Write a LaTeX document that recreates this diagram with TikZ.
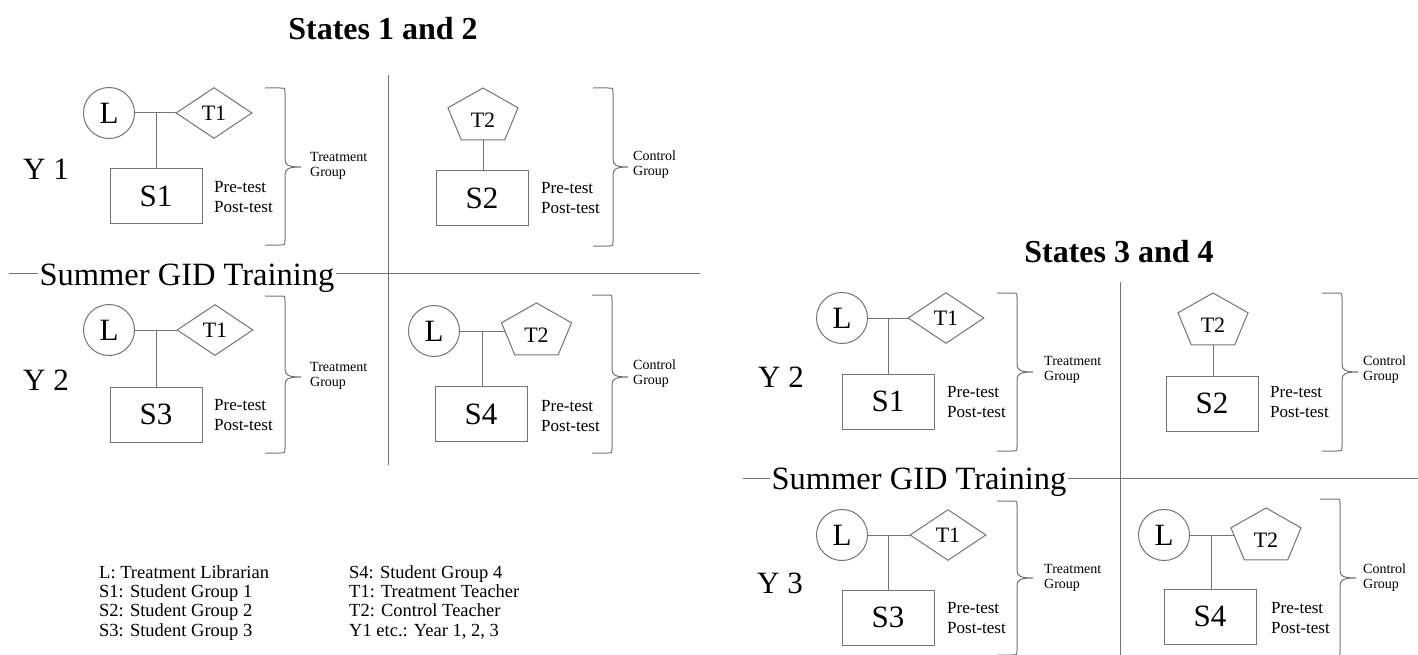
\documentclass[tikz,border=0pt]{standalone}
\usepackage{fontspec}
\setmainfont{Liberation Serif}
\usetikzlibrary{shapes.geometric}
% right brace: #1 arm end x, #2 shaft x, #3 tip x, #4 top y, #5 tip y, #6 bottom y
\newcommand\grpbrace[6]{%
  \draw[ln] (#1,#4) -- ({#2-5},#4) .. controls (#2,#4) .. (#2,{#4+5})
    -- (#2,{#5-8}) .. controls (#2,{#5-2}) and ({#2+3},#5) .. (#3,#5)
    .. controls ({#2+3},#5) and (#2,{#5+2}) .. (#2,{#5+8})
    -- (#2,{#6-5}) .. controls (#2,#6) .. ({#2-5},#6) -- (#1,#6);}
\begin{document}
\begin{tikzpicture}[x=1pt,y=-1pt,
  ln/.style={draw=black!55, line width=1pt},
  circ/.style={circle, ln, minimum size=51pt, inner sep=0pt, font=\fontsize{31}{31}\selectfont},
  dia/.style={diamond, ln, minimum width=76pt, minimum height=51pt, inner sep=0pt, font=\fontsize{22}{22}\selectfont},
  sbox/.style={rectangle, ln, minimum width=92pt, minimum height=55pt, inner sep=0pt, font=\fontsize{31}{31}\selectfont},
  pent/.style={regular polygon, regular polygon sides=5, ln, minimum size=60pt, inner sep=0pt, xscale=1.228, yscale=0.958},
  pentlbl/.style={inner sep=0pt, yshift=-3.5pt, font=\fontsize{22}{22}\selectfont},
  tests/.style={anchor=west, align=left, inner sep=0pt, font=\fontsize{17}{20}\selectfont},
  grp/.style={anchor=west, align=left, inner sep=0pt, font=\fontsize{14}{15}\selectfont},
  ylbl/.style={anchor=base west, inner sep=0pt, font=\fontsize{31}{31}\selectfont},
  ttl/.style={anchor=base, inner sep=0pt, font=\bfseries\fontsize{32}{32}\selectfont},
  summer/.style={anchor=base, fill=white, inner xsep=1.5pt, inner ysep=1pt, font=\fontsize{32.5}{33}\selectfont},
  leg/.style={anchor=base west, inner sep=0pt, font=\fontsize{18.5}{19}\selectfont}]
\useasboundingbox (0,0) rectangle (1418,655);

% ================= States 1 and 2 =================
\node[ttl] (title1) at (383,40) {States 1 and 2};
\coordinate (vtopA) at (388,75);
\coordinate (vbotA) at (388,465);
\draw[ln] (vtopA) -- (vbotA);
\coordinate (hlA) at (9,273);
\coordinate (hrA) at (700,273);
\draw[ln] (hlA) -- (hrA);
\node[summer] (sumA) at (187,285) {Summer GID Training};
\node[ylbl] (Y1a) at (23,180) {Y 1};
\node[ylbl] (Y2a) at (23,390) {Y 2};

% top-left
\node[circ] (LA1) at (109,113) {L};
\node[dia] (TA1) at (214,113) {T1};
\coordinate (jA1) at (156,113);
\node[sbox] (SA1) at (156,196) {S1};
\draw[ln] (LA1) -- (TA1);
\draw[ln] (jA1) -- (jA1 |- SA1.north);
\node[tests] (ptA1) at (214,197) {Pre-test\\Post-test};
\grpbrace{265}{285}{301}{88}{167}{245}
\node[grp] (gA1) at (310,166) {Treatment\\Group};

% top-right
\begin{scope}[shift={(483,116.7)}]
  \node[pent] (PA2) at (0,0) {};
\end{scope}
\node[pentlbl] (PA2t) at (PA2.center) {T2};
\node[sbox] (SA2) at (482,198) {S2};
\draw[ln] (PA2.south) -- (PA2.south |- SA2.north);
\node[tests] (ptA2) at (541,198) {Pre-test\\Post-test};
\grpbrace{593}{613}{628}{88}{167}{246}
\node[grp] (gA2) at (633,165) {Control\\Group};

% bottom-left
\node[circ] (LA3) at (109,330) {L};
\node[dia] (TA3) at (215,330) {T1};
\coordinate (jA3) at (156,330);
\node[sbox] (SA3) at (156,414.5) {S3};
\draw[ln] (LA3) -- (TA3);
\draw[ln] (jA3) -- (jA3 |- SA3.north);
\node[tests] (ptA3) at (214,415) {Pre-test\\Post-test};
\grpbrace{265}{285}{301}{296}{377}{453}
\node[grp] (gA3) at (310,376) {Treatment\\Group};

% bottom-right
\node[circ] (LA4) at (434,331) {L};
\begin{scope}[shift={(536.5,331.7)}]
  \node[pent] (PA4) at (0,0) {};
\end{scope}
\node[pentlbl] (PA4t) at (PA4.center) {T2};
\coordinate (jA4) at (482,331);
\node[sbox] (SA4) at (481,414) {S4};
\draw[ln] (LA4.east) -- (LA4.east -| PA4.west);
\draw[ln] (jA4) -- (jA4 |- SA4.north);
\node[tests] (ptA4) at (541,416) {Pre-test\\Post-test};
\grpbrace{592}{612}{628}{295}{377}{453}
\node[grp] (gA4) at (633,374) {Control\\Group};

% legend
\node[leg] (lg1) at (99,578) {L: Treatment Librarian};
\node[leg] (lg2) at (99,597.3) {S1: Student Group 1};
\node[leg] (lg3) at (99,616.6) {S2: Student Group 2};
\node[leg] (lg4) at (99,636) {S3: Student Group 3};
\node[leg] (lg5) at (349,578) {S4: Student Group 4};
\node[leg] (lg6) at (349,597.3) {T1: Treatment Teacher};
\node[leg] (lg7) at (349,616.6) {T2: Control Teacher};
\node[leg] (lg8) at (349,636) {Y1 etc.: Year 1, 2, 3};

% ================= States 3 and 4 =================
\node[ttl] (title2) at (1119,262) {States 3 and 4};
\coordinate (vtopB) at (1120,282);
\coordinate (vbotB) at (1120,655);
\draw[ln] (vtopB) -- (vbotB);
\coordinate (hlB) at (743,478);
\coordinate (hrB) at (1418,478);
\draw[ln] (hlB) -- (hrB);
\node[summer] (sumB) at (919,489) {Summer GID Training};
\node[ylbl] (Y2b) at (758,387) {Y 2};
\node[ylbl] (Y3b) at (757,593) {Y 3};

% top-left
\node[circ] (LB1) at (842,318) {L};
\node[dia] (TB1) at (946,318) {T1};
\coordinate (jB1) at (888,318);
\node[sbox] (SB1) at (888,401.5) {S1};
\draw[ln] (LB1) -- (TB1);
\draw[ln] (jB1) -- (jB1 |- SB1.north);
\node[tests] (ptB1) at (947,402) {Pre-test\\Post-test};
\grpbrace{997}{1017}{1033}{293}{372}{451}
\node[grp] (gB1) at (1044,370) {Treatment\\Group};

% top-right
\begin{scope}[shift={(1213,321.7)}]
  \node[pent] (PB2) at (0,0) {};
\end{scope}
\node[pentlbl] (PB2t) at (PB2.center) {T2};
\node[sbox] (SB2) at (1212,403.5) {S2};
\draw[ln] (PB2.south) -- (PB2.south |- SB2.north);
\node[tests] (ptB2) at (1270,402) {Pre-test\\Post-test};
\grpbrace{1322}{1342}{1358}{293}{372}{451}
\node[grp] (gB2) at (1363,370) {Control\\Group};

% bottom-left
\node[circ] (LB3) at (842,535) {L};
\node[dia] (TB3) at (948,535) {T1};
\coordinate (jB3) at (888,535);
\node[sbox] (SB3) at (888,617.5) {S3};
\draw[ln] (LB3) -- (TB3);
\draw[ln] (jB3) -- (jB3 |- SB3.north);
\node[tests] (ptB3) at (947,618) {Pre-test\\Post-test};
\grpbrace{997}{1017}{1033}{501}{578}{655}
\node[grp] (gB3) at (1044,578) {Treatment\\Group};

% bottom-right
\node[circ] (LB4) at (1164,535) {L};
\begin{scope}[shift={(1266,536.7)}]
  \node[pent] (PB4) at (0,0) {};
\end{scope}
\node[pentlbl] (PB4t) at (PB4.center) {T2};
\coordinate (jB4) at (1211,535);
\node[sbox] (SB4) at (1210,616.5) {S4};
\draw[ln] (LB4.east) -- (LB4.east -| PB4.west);
\draw[ln] (jB4) -- (jB4 |- SB4.north);
\node[tests] (ptB4) at (1271,618) {Pre-test\\Post-test};
\grpbrace{1320}{1340}{1356}{499}{578}{657}
\node[grp] (gB4) at (1363,578) {Control\\Group};
\end{tikzpicture}
\end{document}
